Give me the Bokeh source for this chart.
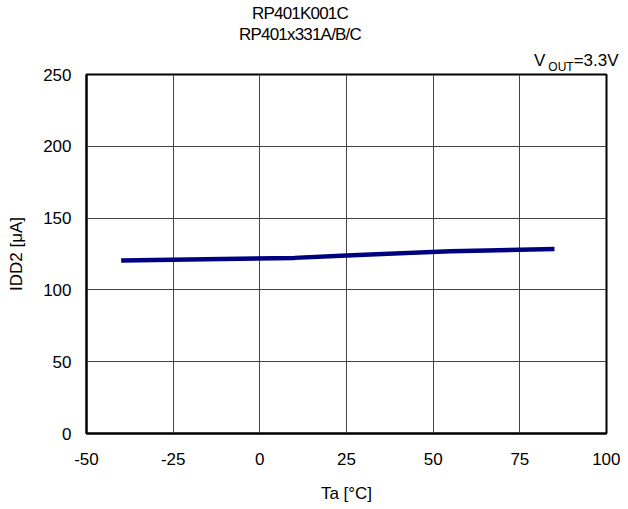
from bokeh.plotting import figure
from bokeh.models import Range1d, FixedTicker, Div
from bokeh.layouts import column
from bokeh.embed import file_html
from bokeh.resources import INLINE

temps = [-40, 10, 25, 55, 85]
idd2 = [120.5, 122.3, 124.0, 127.0, 128.4]
x_ticks = [-50, -25, 0, 25, 50, 75, 100]
y_ticks = [0, 50, 100, 150, 200, 250]
title_lines = ["RP401K001C", "RP401x331A/B/C"]
vout_text = ("V", "OUT", "=3.3V")

FONT = "Liberation Sans"
W = 620
HEAD = 62
H = 443

p = figure(width=W, height=H, output_backend="svg", toolbar_location=None,
           x_range=Range1d(-50, 100), y_range=Range1d(0, 250),
           min_border_left=86, min_border_right=14, min_border_top=12, min_border_bottom=67)

p.line(temps, idd2, line_width=4.5, color="#000080")

for ax in (p.xaxis[0], p.yaxis[0]):
    ax.major_tick_line_color = None
    ax.minor_tick_line_color = None
    ax.major_tick_out = 0
    ax.major_tick_in = 0
    ax.minor_tick_out = 0
    ax.minor_tick_in = 0
    ax.axis_line_width = 2
    ax.axis_line_color = "black"
    ax.major_label_text_font = FONT
    ax.major_label_text_font_size = "17px"
    ax.major_label_text_color = "black"
    ax.axis_label_text_font = FONT
    ax.axis_label_text_font_size = "17px"
    ax.axis_label_text_font_style = "normal"
    ax.axis_label_text_color = "black"

p.xaxis.ticker = FixedTicker(ticks=x_ticks)
p.yaxis.ticker = FixedTicker(ticks=y_ticks)
p.xaxis.major_label_overrides = {t: str(t) for t in x_ticks}
p.xaxis.axis_label = "Ta [°C]"
p.yaxis.axis_label = "IDD2 [μA]"
p.xaxis.major_label_standoff = 19
p.yaxis.major_label_standoff = 15
p.xaxis.axis_label_standoff = 16
p.yaxis.axis_label_standoff = 14

p.xgrid.grid_line_color = "#444444"
p.ygrid.grid_line_color = "#444444"
p.outline_line_color = "black"
p.outline_line_width = 2
p.background_fill_color = "white"
p.border_fill_color = "white"
p.border_fill_alpha = 0

base = (f"position:absolute;font-family:'{FONT}';font-size:17px;line-height:20px;"
        f"color:black;white-space:nowrap;z-index:10;")
html = (
    f"<div style=\"position:relative;width:{W}px;height:{HEAD}px;overflow:visible;\">"
    f"<div style=\"{base}left:150px;width:300px;top:4px;text-align:center;letter-spacing:-0.8px;\">{title_lines[0]}</div>"
    f"<div style=\"{base}left:150px;width:300px;top:25px;text-align:center;letter-spacing:-0.8px;\">{title_lines[1]}</div>"
    f"<div style=\"{base}left:534px;top:51px;\">{vout_text[0]}"
    f"<span style=\"font-size:12px;position:relative;top:5px;margin-left:3px;\">{vout_text[1]}</span>"
    f"{vout_text[2]}</div>"
    f"</div>"
)
head = Div(text=html, width=W, height=HEAD,
           styles={"margin": "0", "padding": "0", "overflow": "visible", "z-index": "10"})

layout = column(head, p, spacing=0)
open("out.html", "w").write(file_html(layout, INLINE))
